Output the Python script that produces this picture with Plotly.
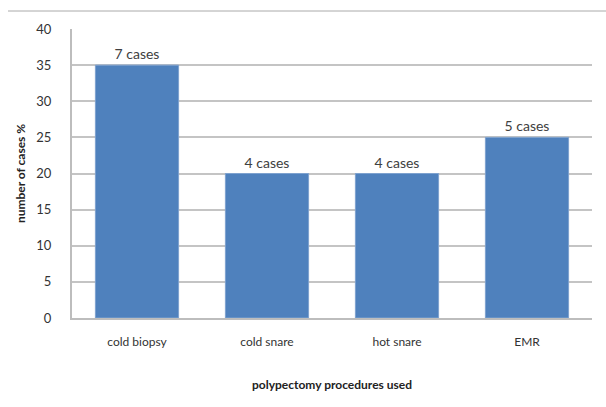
import plotly.graph_objects as go

procedures = ["cold biopsy", "cold snare", "hot snare", "EMR"]
percent_cases = [35, 20, 20, 25]
case_labels = ["7 cases", "4 cases", "4 cases", "5 cases"]
y_ticks = [0, 5, 10, 15, 20, 25, 30, 35, 40]

W, H = 606, 407
L, R, T, B = 72, 14, 29, 89

fig = go.Figure(
    go.Bar(
        x=procedures,
        y=percent_cases,
        text=case_labels,
        textposition="outside",
        textfont=dict(family="Lato, Liberation Sans, sans-serif", size=14, color="#404040"),
        cliponaxis=False,
        marker=dict(color="#4F81BD", line=dict(color="#7EA2CF", width=1)),
        width=0.64,
    )
)

fig.update_layout(
    width=W,
    height=H,
    margin=dict(l=L, r=R, t=T, b=B),
    paper_bgcolor="white",
    plot_bgcolor="white",
    showlegend=False,
    font=dict(family="Lato, Liberation Sans, sans-serif", color="#404040"),
    xaxis=dict(
        showgrid=False,
        showline=True,
        linecolor="#BDBDBD",
        linewidth=2,
        tickfont=dict(size=12, color="#333333"),
        ticks="",
        ticklabelstandoff=12,
        title=dict(
            text="polypectomy procedures used",
            font=dict(size=12, color="#222222", weight="bold"),
            standoff=32,
        ),
    ),
    yaxis=dict(
        range=[0, 40],
        tickvals=y_ticks,
        showgrid=True,
        gridcolor="#C4C4C4",
        gridwidth=2,
        zeroline=False,
        showline=True,
        linecolor="#BDBDBD",
        linewidth=2,
        ticks="",
        ticklabelstandoff=16,
        tickfont=dict(size=13, color="#333333"),
        title=dict(
            text="number of cases %",
            font=dict(size=12, color="#222222", weight="bold"),
            standoff=8,
        ),
    ),
    shapes=[
        dict(
            type="line",
            xref="paper",
            yref="paper",
            x0=(8 - L) / (W - L - R),
            x1=1.03,
            y0=1 + (T - 11) / (H - T - B),
            y1=1 + (T - 11) / (H - T - B),
            line=dict(color="#AAAAAA", width=1),
        )
    ],
)

fig.write_html("out.html")
